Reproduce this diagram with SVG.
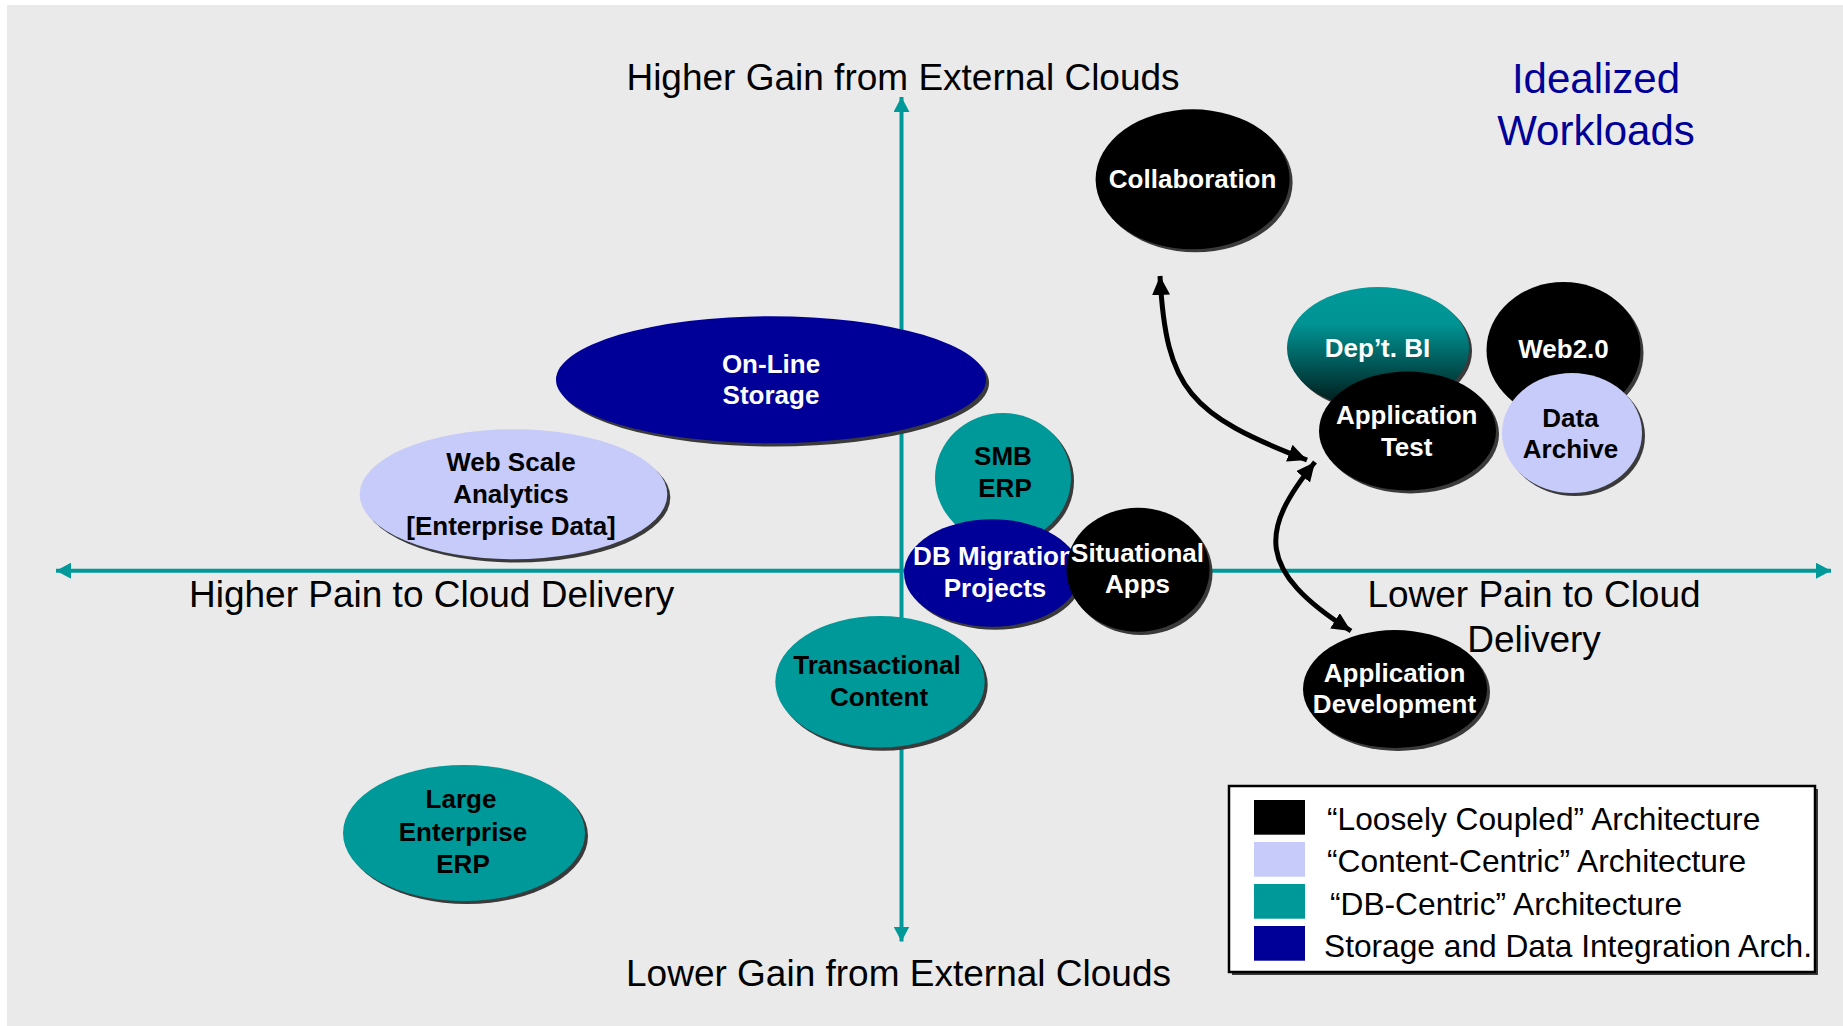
<svg xmlns="http://www.w3.org/2000/svg" width="1843" height="1026" viewBox="0 0 1843 1026">
<style>
.ax{font-family:"Liberation Sans",Arial,sans-serif;font-size:37px;fill:#000}
.nt{font-family:"Liberation Sans",Arial,sans-serif;font-size:26px;font-weight:bold;text-anchor:middle}
.w{fill:#fff}
.b{fill:#000}
.sh{fill:#3a3a3a}
.lg{font-family:"Liberation Sans",Arial,sans-serif;font-size:31.7px;fill:#000}
.axis{stroke:#009999;stroke-width:4;fill:none}
.conn{stroke:#000;stroke-width:5;fill:none}
.teal{fill:#009999}
.navy{fill:#000099}
.lav{fill:#C7CBFA}
.blk{fill:#000}
</style>
<defs>
<marker id="ah" markerUnits="userSpaceOnUse" markerWidth="16" markerHeight="16" refX="15" refY="8" orient="auto-start-reverse">
<path d="M0,0 L15,8 L0,16 Z" fill="#009999"/>
</marker>
<marker id="bh" markerUnits="userSpaceOnUse" markerWidth="20" markerHeight="18" refX="19" refY="9" orient="auto-start-reverse">
<path d="M0,0 L19,9 L0,18 Z" fill="#000"/>
</marker>
<linearGradient id="gBI" x1="0" y1="0" x2="0" y2="1">
<stop offset="0" stop-color="#009999"/>
<stop offset="0.3" stop-color="#009494"/>
<stop offset="1" stop-color="#001414"/>
</linearGradient>
</defs>
<rect x="0" y="0" width="1843" height="1026" fill="#fff"/>
<rect x="7" y="5" width="1836" height="1021" fill="#EAEAEA"/>

<g id="axes">
<line class="axis" x1="901.5" y1="97" x2="901.5" y2="941.5" marker-start="url(#ah)" marker-end="url(#ah)"/>
<line class="axis" x1="56" y1="570.7" x2="1831" y2="570.7" marker-start="url(#ah)" marker-end="url(#ah)"/>
</g>

<g id="labels">
<text class="ax" x="903" y="89.5" text-anchor="middle">Higher Gain from External Clouds</text>
<text class="ax" x="898.5" y="986" text-anchor="middle">Lower Gain from External Clouds</text>
<text class="ax" x="189" y="606.7">Higher Pain to Cloud Delivery</text>
<text class="ax" x="1534" y="607" text-anchor="middle">Lower Pain to Cloud</text>
<text class="ax" x="1534" y="652" text-anchor="middle">Delivery</text>
<text x="1596" y="93.3" text-anchor="middle" font-family="Liberation Sans, Arial, sans-serif" font-size="42" fill="#000099">Idealized</text>
<text x="1596" y="145" text-anchor="middle" font-family="Liberation Sans, Arial, sans-serif" font-size="42" fill="#000099">Workloads</text>
</g>

<g id="online-storage">
<ellipse class="sh" cx="774" cy="383" rx="215" ry="63.5"/>
<ellipse class="navy" cx="771" cy="379.7" rx="215" ry="63.5"/>
<text class="nt w" x="771" y="372.7">On-Line</text>
<text class="nt w" x="771" y="404">Storage</text>
</g>

<g id="web-scale-analytics">
<ellipse class="sh" cx="516.5" cy="497.5" rx="153.8" ry="65"/>
<ellipse class="lav" cx="513.5" cy="494.3" rx="153.8" ry="65"/>
<text class="nt b" x="511" y="470.7">Web Scale</text>
<text class="nt b" x="511" y="503">Analytics</text>
<text class="nt b" x="511" y="535">[Enterprise Data]</text>
</g>

<g id="smb-erp">
<ellipse class="sh" cx="1006" cy="481" rx="68" ry="65"/>
<ellipse class="teal" cx="1003" cy="478" rx="68" ry="65"/>
<text class="nt b" x="1003" y="465">SMB</text>
<text class="nt b" x="1005" y="496.7">ERP</text>
</g>

<g id="db-migration">
<ellipse class="sh" cx="995" cy="576" rx="88" ry="53.7"/>
<ellipse class="navy" cx="992" cy="573" rx="88" ry="53.7"/>
<text class="nt w" x="994" y="565">DB Migration</text>
<text class="nt w" x="995" y="596.7">Projects</text>
</g>

<g id="situational-apps">
<ellipse class="sh" cx="1141" cy="573" rx="71.5" ry="62"/>
<ellipse class="blk" cx="1138" cy="569.7" rx="71.5" ry="62"/>
<text class="nt w" x="1137.5" y="561.7">Situational</text>
<text class="nt w" x="1137.5" y="593.3">Apps</text>
</g>

<g id="transactional-content">
<ellipse class="sh" cx="883" cy="685" rx="104.7" ry="65.7"/>
<ellipse class="teal" cx="880" cy="681.7" rx="104.7" ry="65.7"/>
<text class="nt b" x="877" y="674">Transactional</text>
<text class="nt b" x="879" y="706">Content</text>
</g>

<g id="large-enterprise-erp">
<ellipse class="sh" cx="467" cy="836" rx="121" ry="68"/>
<ellipse class="teal" cx="464" cy="833" rx="121" ry="68"/>
<text class="nt b" x="461" y="808.3">Large</text>
<text class="nt b" x="463" y="840.7">Enterprise</text>
<text class="nt b" x="463" y="872.7">ERP</text>
</g>

<g id="collaboration">
<ellipse class="sh" cx="1195.6" cy="182.3" rx="97" ry="70"/>
<ellipse class="blk" cx="1192.6" cy="179.3" rx="97" ry="70"/>
<text class="nt w" x="1192.6" y="188.3">Collaboration</text>
</g>

<g id="dept-bi">
<ellipse class="sh" cx="1381" cy="351" rx="91" ry="61"/>
<ellipse cx="1378" cy="348" rx="91" ry="61" fill="url(#gBI)"/>
<text class="nt w" x="1377.5" y="357.3">Dep’t. BI</text>
</g>

<g id="application-test">
<ellipse class="sh" cx="1410.5" cy="434" rx="88.5" ry="59.5"/>
<ellipse class="blk" cx="1407.5" cy="431" rx="88.5" ry="59.5"/>
<text class="nt w" x="1406.7" y="424">Application</text>
<text class="nt w" x="1406.7" y="455.7">Test</text>
</g>

<g id="web20">
<ellipse class="sh" cx="1566.5" cy="353" rx="77" ry="68"/>
<ellipse class="blk" cx="1563.5" cy="350" rx="77" ry="68"/>
<text class="nt w" x="1563.5" y="358.3">Web2.0</text>
</g>

<g id="data-archive">
<ellipse class="sh" cx="1575" cy="436" rx="70" ry="60"/>
<ellipse class="lav" cx="1572" cy="433" rx="70" ry="60"/>
<text class="nt b" x="1570.5" y="426.7">Data</text>
<text class="nt b" x="1570.5" y="458.3">Archive</text>
</g>

<g id="application-development">
<ellipse class="sh" cx="1398" cy="692" rx="92" ry="59"/>
<ellipse class="blk" cx="1395" cy="689" rx="92" ry="59"/>
<text class="nt w" x="1394.5" y="681.7">Application</text>
<text class="nt w" x="1394.5" y="713.3">Development</text>
</g>

<g id="connectors">
<path class="conn" d="M1307,460 C1190,415 1166,390 1160,276" marker-end="url(#bh)" marker-start="url(#bh)"/>
<path class="conn" d="M1315,462 C1260,530 1255,570 1351,631" marker-end="url(#bh)" marker-start="url(#bh)"/>
</g>

<g id="legend">
<rect x="1232" y="789" width="586" height="186" fill="#3a3a3a"/>
<rect x="1229" y="786" width="586" height="186" fill="#fff" stroke="#000" stroke-width="2.5"/>
<rect x="1254" y="800" width="51" height="34.7" fill="#000"/>
<rect x="1254" y="842" width="51" height="34.7" fill="#C7CBFA"/>
<rect x="1254" y="884" width="51" height="34.7" fill="#009999"/>
<rect x="1254" y="926" width="51" height="34.7" fill="#000099"/>
<text class="lg" x="1327" y="830">“Loosely Coupled” Architecture</text>
<text class="lg" x="1327" y="872">“Content-Centric” Architecture</text>
<text class="lg" x="1330" y="915.3">“DB-Centric” Architecture</text>
<text class="lg" x="1324" y="957.3">Storage and Data Integration Arch.</text>
</g>
</svg>
